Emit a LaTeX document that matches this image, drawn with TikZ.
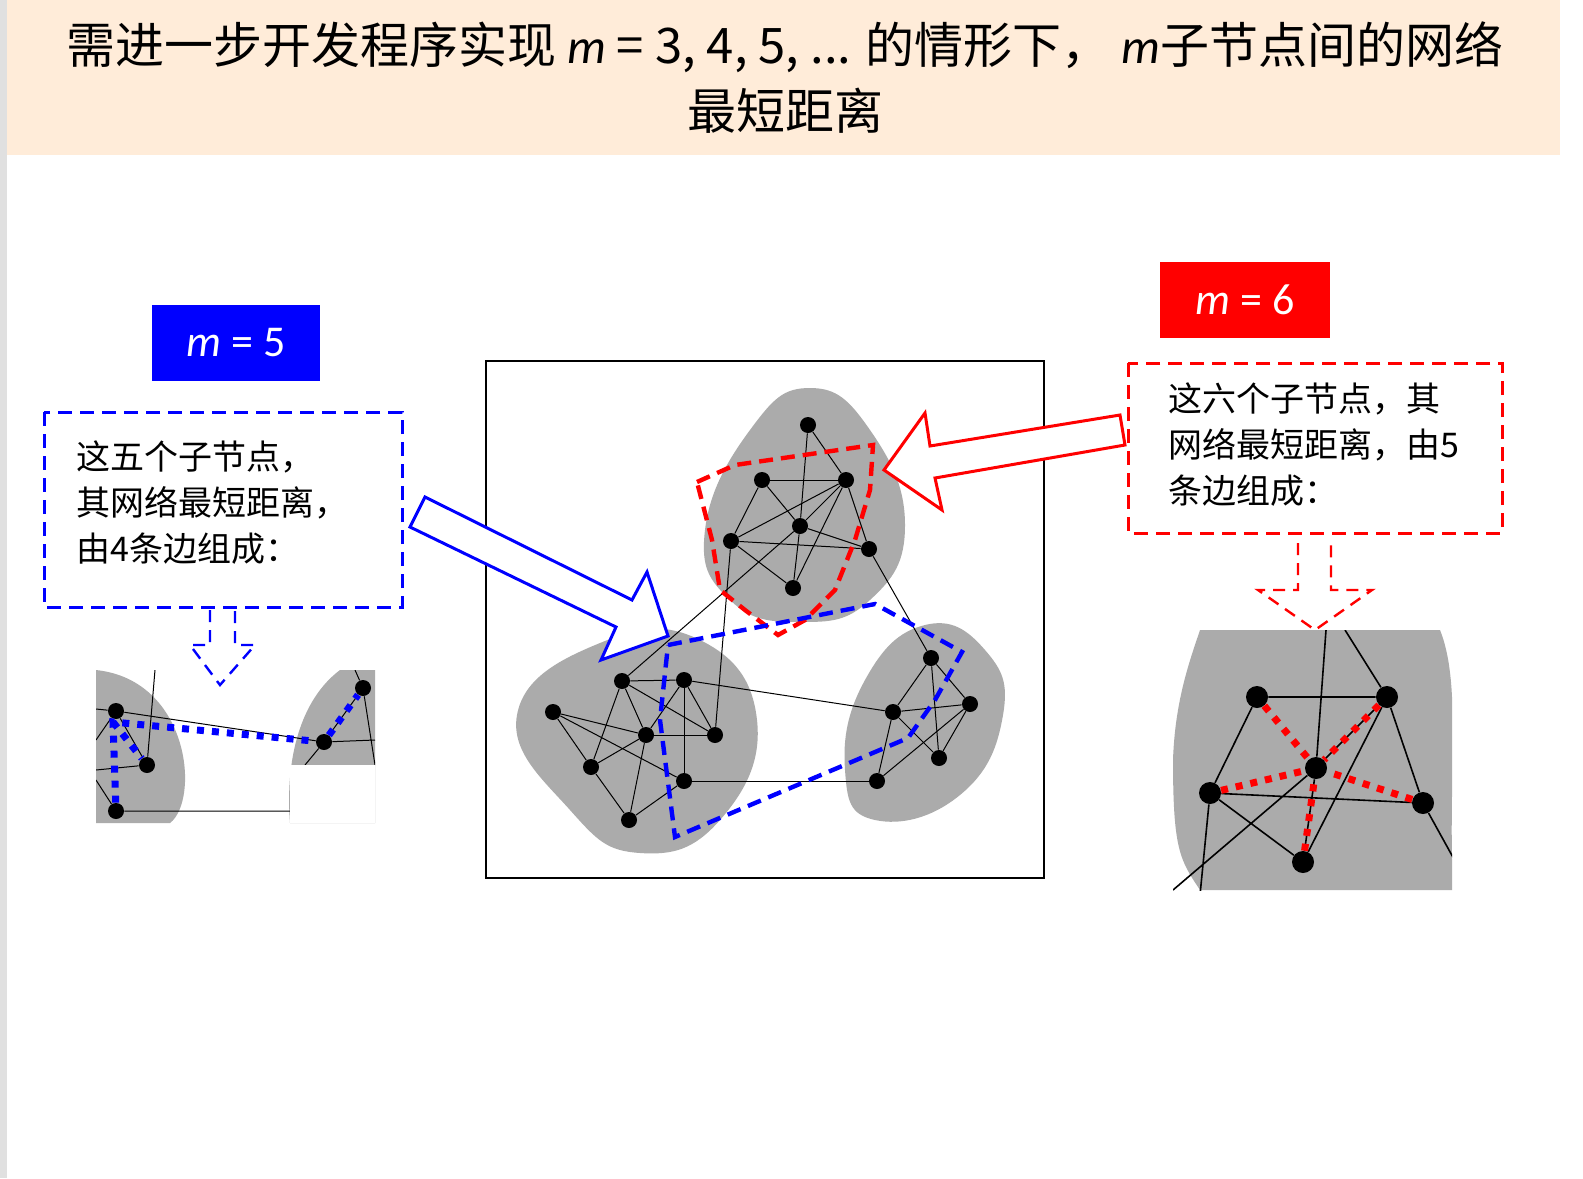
\documentclass[tikz,border=0pt]{standalone}
\usepackage{fontspec}
\setmainfont{Carlito}
\newfontfamily\cjk{Noto Sans CJK SC}
\newcommand{\mvarit}{{\rmfamily\itshape m}}
\begin{document}
\begin{tikzpicture}[x=0.5pt,y=-0.5pt,
 dot/.style={circle,fill=black,inner sep=0pt,minimum size=8pt},
 bdot/.style={circle,fill=black,inner sep=0pt,minimum size=11pt},
 edge/.style={black,line width=0.5pt},
 blob/.style={fill=black!33,draw=none},
 reddash/.style={red,line width=2.2pt,dash pattern=on 7pt off 4pt},
 bluedash/.style={blue,line width=2.2pt,dash pattern=on 7pt off 4pt},
 thindash/.style={line width=1.2pt,dash pattern=on 6pt off 4pt},
 hollow/.style={line width=1.5pt,fill=white,line join=miter},
 lbl/.style={text=white,font=\fontsize{22}{24}\selectfont,inner sep=0pt},
 btxt/.style={align=left,anchor=north west,font=\cjk\fontsize{17}{23}\selectfont,inner sep=0pt}]
\useasboundingbox (0,0) rectangle (1583,1178);
\fill[black!12] (0,0) rectangle (7,1178);
\fill[white] (7,0) rectangle (1583,1178);
% title
\fill[orange!15] (7,0) rectangle (1560,155);
\node[font=\cjk\fontsize{24.5}{33}\selectfont,align=center] (title) at (785,78)
 {需进一步开发程序实现 \mvarit{} = 3, 4, 5, ... 的情形下， \mvarit{}子节点间的网络\\最短距离};
% central frame
\draw[line width=1.2pt] (486,361) rectangle (1044,878);
\fill[blob] plot[smooth cycle,tension=0.8] coordinates {(810,388) (870,430) (905,525) (870,600) (800,622) (730,600) (705,530) (750,430)};
\fill[blob] plot[smooth cycle,tension=0.8] coordinates {(600,643) (700,640) (757,720) (720,820) (640,853) (570,810) (517,715)};
\fill[blob] plot[smooth cycle,tension=0.8] coordinates {(925,625) (985,650) (1003,715) (960,795) (875,820) (845,770) (865,680)};
% nodes
\foreach \n/\p in {A1/{808,425},A2/{762,480},A3/{846,480},A4/{800,526},A5/{731,541},A6/{869,549},A7/{793,588},
 B1/{622,681},B2/{684,680},B3/{553,712},B4/{646,735},B5/{715,735},B6/{591,767},B7/{684,781},B8/{629,820},
 C1/{931,658},C2/{970,704},C3/{893,712},C4/{939,758},C5/{877,781}}
 \node[dot] (\n) at (\p) {};
\foreach \a/\b in {A1/A4,A1/A3,A2/A3,A2/A4,A2/A5,A3/A4,A3/A5,A3/A6,A3/A7,A4/A7,A4/A6,A5/A6,A5/A7,A4/B1,A5/B5,A6/C1,
 B1/B2,B1/B4,B1/B5,B1/B6,B3/B4,B3/B6,B3/B7,B2/B5,B2/B7,B2/B4,B4/B5,B4/B8,B6/B4,B6/B8,B8/B7,B2/C3,B7/C5,
 C1/C3,C1/C2,C1/C4,C3/C2,C3/C4,C3/C5,C2/C5,C2/C4}
 \draw[edge] (\a)--(\b);
\draw[reddash] (697,482)--(735,465)--(873,445)--(870,490)--(855,540)--(835,590)--(805,620)--(778,635)--(745,610)--(720,590)--(712,540)--cycle;
\draw[bluedash] (668,645)--(875,604)--(962,652)--(935,700)--(908,738)--(675,837)--(660,720)--cycle;
% hollow arrows
\draw[hollow,draw=red] (1120,415)--(930,446)--(925,413)--(884,470)--(942,510)--(935,478)--(1125,445)--cycle;
\draw[hollow,draw=blue] (425,497)--(632,600)--(647,572)--(668,636)--(601,660)--(616,627)--(410,527)--cycle;
% left
\node[fill=blue,minimum width=84pt,minimum height=38pt,inner sep=0pt] (m5) at (236,343) {};
\node[lbl] at (m5) {\textit{m} = 5};
\draw[bluedash,line width=1.5pt] (44,412) rectangle (402,607);
\node[btxt] (t5) at (76,440) {这五个子节点，\\其网络最短距离，\\由4条边组成：};
\draw[blue,thindash] (210,610)--(210,645)--(190,645)--(220,685)--(255,645)--(235,645)--(235,610);
% left inset
\begin{scope}
\clip (96,670) rectangle (375,823);
\fill[blob] (96,670) .. controls (190,680) and (200,800) .. (170,823) -- (96,823) -- cycle;
\fill[blob] (375,670) -- (340,670) .. controls (300,700) and (285,760) .. (290,823) -- (375,823) -- cycle;
\node[dot] (L1) at (116,711) {};
\node[dot] (L2) at (147,765) {};
\node[dot] (L3) at (116,811) {};
\node[dot] (L4) at (324,742) {};
\node[dot] (L5) at (363,688) {};
\coordinate (Lt) at (155,670);
\coordinate (Ll) at (96,709);
\coordinate (Lr) at (290,811);
\coordinate (Lx) at (96,740);
\coordinate (Ly) at (96,780);
\coordinate (Lz) at (375,740);
\coordinate (Lw) at (355,670);
\coordinate (Lv) at (375,765);
\coordinate (Lu) at (305,765);
\coordinate (Lq) at (96,770);
\draw[edge] (Ll)--(L1)--(L4)--(L5) (Lt)--(L2) (L3)--(Lr) (L1)--(Lx) (L1)--(L2) (L3)--(Ly) (L2)--(Lq) (L4)--(Lz) (L5)--(Lw) (L5)--(Lv) (L4)--(Lu);
\fill[white] (290,765) rectangle (375,823);
\draw[blue,line width=3.5pt,dash pattern=on 3.5pt off 4pt] (L3)--(113,722)--(L4)--(L5) (113,722)--(L2);
\end{scope}
% right
\node[fill=red,minimum width=85pt,minimum height=38pt,inner sep=0pt] (m6) at (1245,300) {};
\node[lbl] at (m6) {\textit{m} = 6};
\draw[reddash,line width=1.5pt] (1128,363) rectangle (1502,533);
\node[btxt] (t6) at (1168,382) {这六个子节点，其\\网络最短距离，由5\\条边组成：};
\draw[red,thindash] (1298,543)--(1298,590)--(1258,590)--(1315,630)--(1372,590)--(1331,590)--(1331,543);
\begin{scope}
\clip (1173,630) rectangle (1452,890);
\fill[blob] (1200,630) -- (1440,630) .. controls (1460,680) and (1450,760) .. (1452,860) -- (1452,890) -- (1200,890) .. controls (1180,860) and (1173,850) .. (1173,760) .. controls (1175,700) and (1190,660) .. (1200,630) -- cycle;
\node[bdot] (R1) at (1257,697) {};
\node[bdot] (R2) at (1387,697) {};
\node[bdot] (R3) at (1316,768) {};
\node[bdot] (R4) at (1210,793) {};
\node[bdot] (R5) at (1423,803) {};
\node[bdot] (R6) at (1303,862) {};
\coordinate (Ra) at (1326,630);
\coordinate (Rb) at (1345,630);
\coordinate (Rc) at (1460,870);
\coordinate (Rd) at (1200,895);
\coordinate (Re) at (1173,890);
\draw[edge,line width=0.8pt] (Ra)--(R3) (Rb)--(R2) (R1)--(R2) (R1)--(R4) (R2)--(R5) (R4)--(R5) (R4)--(R6) (R3)--(R6) (R6)--(R2) (R3)--(R2) (R5)--(Rc) (R4)--(Rd) (Re)--(R3);
\draw[red,line width=3.5pt,dash pattern=on 3.5pt off 4pt] (R1)--(R3) (R2)--(R3) (R4)--(R3) (R5)--(R3) (R6)--(R3);
\end{scope}
\end{tikzpicture}
\end{document}
